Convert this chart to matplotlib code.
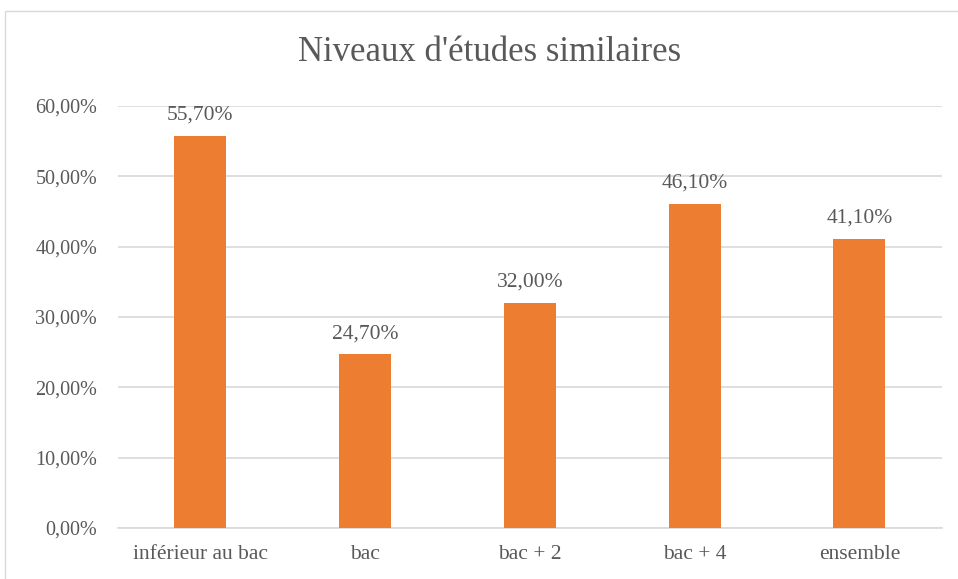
import matplotlib.pyplot as plt
from matplotlib.patches import Rectangle
from matplotlib.ticker import FuncFormatter

categories = ["inférieur au bac", "bac", "bac + 2", "bac + 4", "ensemble"]
values = [55.7, 24.7, 32.0, 46.1, 41.1]
y_ticks = [0, 10, 20, 30, 40, 50, 60]

plt.rcParams["font.family"] = ["Liberation Serif", "DejaVu Serif"]
text_col = "#595959"

fig = plt.figure(figsize=(9.58, 5.79), dpi=100)
ax = fig.add_axes([0.123, 0.0881, 0.860, 0.729])

x = range(len(categories))
bars = ax.bar(x, values, width=0.315, color="#ED7D31", zorder=3)

for b, v in zip(bars, values):
    ax.annotate(f"{v:.2f}%".replace(".", ","), (b.get_x() + b.get_width() / 2, v),
                xytext=(0, 8), textcoords="offset points", ha="center", va="bottom",
                fontsize=15.5, color=text_col)

ax.set_xlim(-0.5, len(categories) - 0.5)
ax.set_ylim(0, 60)
ax.set_yticks(y_ticks)
ax.yaxis.set_major_formatter(FuncFormatter(lambda v, p: f"{v:.2f}%".replace(".", ",")))
ax.set_xticks(list(x))
ax.set_xticklabels(categories)
ax.tick_params(axis="both", length=0, labelcolor=text_col)
ax.tick_params(axis="x", pad=12, labelsize=15.5)
ax.tick_params(axis="y", pad=15, labelsize=14.5)

ax.grid(axis="y", color="#D9D9D9", linewidth=1.2, zorder=0)
for s in ["top", "right", "left"]:
    ax.spines[s].set_visible(False)
ax.spines["bottom"].set_color("#D9D9D9")
ax.spines["bottom"].set_linewidth(1.2)

fig.text(0.511, 0.91, "Niveaux d'études similaires", ha="center", va="center",
         fontsize=25, color=text_col)

fig.patches.append(Rectangle((5 / 958, -0.05), 1.1, 1 - 11 / 579 + 0.05,
                             transform=fig.transFigure, fill=False,
                             edgecolor="#D9D9D9", linewidth=1))

fig.savefig("out.png", dpi=100)
